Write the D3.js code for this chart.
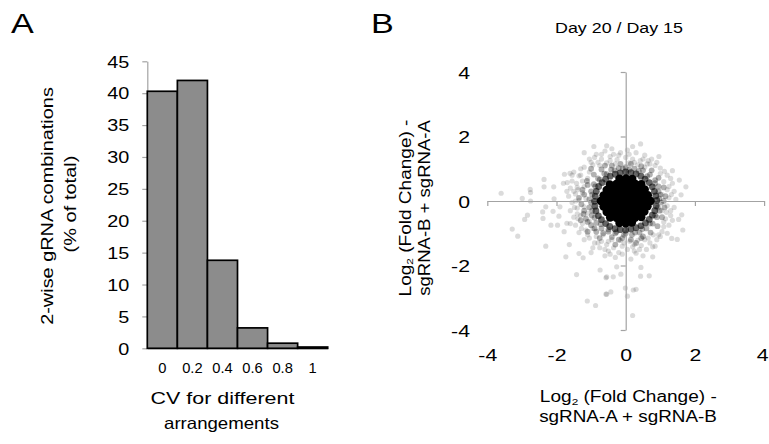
<!DOCTYPE html>
<html>
<head>
<meta charset="utf-8">
<script src="https://cdn.jsdelivr.net/npm/d3@7"></script>
<style>
  html, body { margin: 0; padding: 0; background: #fff; }
  svg { display: block; font-family: "Liberation Sans", Arial, sans-serif; }
  text { white-space: pre; }
</style>
</head>
<body>
<svg id="chart" width="769" height="444"></svg>
<script>
// ---------- Panel A data ----------
const cvCategories = ["0", "0.2", "0.4", "0.6", "0.8", "1"];
const percentOfTotal = [40.3, 42.0, 13.8, 3.2, 0.8, 0.2];
const yTicksA = [0, 5, 10, 15, 20, 25, 30, 35, 40, 45];

// ---------- Panel B data ----------
const ticksB = [-4, -2, 0, 2, 4];
// [log2FC (sgRNA-A + sgRNA-B), log2FC (sgRNA-B + sgRNA-A)]
const sparsePoints = [
  [-3.6,0.24],[-2.76,0.36],[-2.75,0.26],[-2.99,0.08],[-2.75,0.0],[-2.36,0.67],[-2.36,0.44],[-2.08,0.44],
  [-2.07,0.07],[-2.31,-0.18],[-2.4,-0.34],[-2.39,-0.54],[-2.84,-0.44],[-2.92,-0.57],[-3.28,-0.87],[-3.12,-1.09],
  [-2.31,-1.4],[-2.16,-0.75],[-1.97,-0.75],[-2.1,-0.32],[-1.93,-0.47],[-1.73,-1.73],[-1.42,-2.28],[-1.11,-3.1],
  [-0.87,-3.24],[-0.92,1.69],[-1.2,1.5],[-1.35,-1.63],[-1.23,-1.76],[-1.7,-0.69],[-1.78,-0.95],[-1.63,-1.35],
  [-1.77,0.83],[-1.61,0.86],[-1.69,0.57],[-1.8,0.55],[-1.9,-0.18],[-0.55,-2.35],[-0.57,-2.89],[-0.74,-2.14],
  [0.43,1.77],[0.2,1.69],[-0.55,1.71],[0.96,1.38],[1.35,0.94],[1.55,0.65],[1.74,0.44],[1.6,0.19],
  [1.62,-0.43],[1.53,-0.57],[1.65,-0.9],[1.49,-1.19],[1.33,-1.16],[0.78,-1.73],[0.68,-2.32],[0.43,-2.33],
  [0.44,-2.06],[0.3,-2.74],[0.22,-2.76],[0.05,-2.95],[0.2,-3.55],[-0.01,-2.7],[-0.55,-2.89],[-0.43,-2.82],
  [-0.57,-2.38],[-0.36,-2.35],[-0.26,-2.04],[-0.14,-2.27],[0.78,-1.42],
  [-0.85,1.45],[-0.6,1.55],[-0.4,1.62],[-0.15,1.5],[0.05,1.58],[0.3,1.5],[0.55,1.42],[0.75,1.3],
  [-1.05,1.3],[-0.95,1.12],[-0.7,1.3],[-0.45,1.38],[-0.25,1.28],[0.0,1.35],[0.2,1.3],[0.42,1.25],
  [0.62,1.15],[0.85,1.1],[1.0,1.02],[-1.2,1.05],[-0.55,1.18],[0.1,1.18],[0.35,1.12],[-0.3,1.15],[-0.8,1.2],
  [-1.5,0.9],[-1.35,0.78],[-1.55,0.62],[-1.25,0.62],[-1.6,0.4],[-1.4,0.42],[-1.2,0.45],[-1.65,0.15],
  [-1.45,0.22],[-1.25,0.25],[-1.55,-0.05],[-1.35,0.02],[-1.15,0.08],[-1.6,-0.3],[-1.4,-0.22],[-1.2,-0.18],
  [-1.5,-0.5],[-1.3,-0.45],[-1.1,-0.38],[-1.45,-0.75],[-1.25,-0.7],[-1.05,-0.62],[-1.35,-0.98],[-1.15,-0.9],
  [-0.95,-0.85],[-1.1,0.7],[-1.05,0.9],[-1.3,1.0],
  [-1.05,-1.15],[-0.85,-1.1],[-0.9,-1.3],[-0.7,-1.25],[-0.75,-1.45],[-0.55,-1.35],[-0.5,-1.55],[-0.35,-1.45],
  [-0.2,-1.6],[-0.1,-1.4],[0.05,-1.5],[0.2,-1.42],[0.3,-1.62],[0.45,-1.38],[0.6,-1.5],[0.7,-1.3],
  [0.9,-1.2],[0.55,-1.2],[0.35,-1.22],[0.12,-1.25],[-0.15,-1.22],[-0.4,-1.2],[-0.65,-1.05],[0.8,-1.05],
  [1.05,-0.95],[-0.3,-1.75],[0.15,-1.8],[-0.6,-1.7],[0.5,-1.7],
  [1.2,0.8],[1.35,0.55],[1.1,0.6],[1.4,0.3],[1.2,0.35],[1.45,0.05],[1.25,0.1],[1.05,0.2],
  [1.4,-0.2],[1.2,-0.15],[1.05,-0.3],[1.3,-0.45],[1.15,-0.55],[1.25,-0.75],[1.1,-0.8],[1.0,0.85],[0.9,1.2],
  [-1.42,0.55],[-1.5,0.3],[-1.48,-0.2],[-1.38,-0.55],[-0.95,-1.45],[-0.6,-1.5],[-0.1,-1.65],[0.4,-1.5],
  [-0.7,1.45],[-0.2,1.42],[0.5,1.3],[1.3,0.7],[1.35,-0.6],[1.0,-1.1],[-1.2,-1.2],[-1.55,0.8],
  [-1.0,1.2],[-0.75,1.1],[-0.45,1.25],[0.25,1.2],[0.55,1.05],[0.7,1.15],[1.12,0.92],[1.25,0.45],
  [1.32,0.2],[1.3,-0.3],[1.18,-0.35],[1.2,-1.0],[0.95,-1.05],[0.65,-1.15],[0.25,-1.35],[-0.05,-1.3],
  [-0.5,-1.25],[-0.8,-1.3],[-1.1,-1.05],[-1.28,-0.85],[-1.4,-0.4],[-1.45,0.0],[-1.38,0.35],[-1.3,0.8],
  [-0.9,1.35],[-0.35,1.45],[0.1,1.45],[0.65,1.25],[1.1,-0.65],[-1.6,-0.7],[-1.7,0.3],[-0.45,-1.65],
  [0.25,-1.55],[0.85,-1.4],[-1.0,-1.6]
];
const ringPoints = [
  [0.0,1.05],[0.25,1.0],[0.5,0.95],[0.7,0.82],[0.85,0.65],[0.95,0.45],[1.0,0.2],[1.02,-0.05],
  [0.98,-0.3],[0.9,-0.5],[0.78,-0.7],[0.6,-0.85],[0.4,-0.98],[0.18,-1.05],[-0.05,-1.05],[-0.3,-1.0],
  [-0.5,-0.95],[-0.7,-0.85],[-0.85,-0.68],[-0.98,-0.45],[-1.05,-0.2],[-1.05,0.05],[-1.0,0.3],[-0.92,0.52],
  [-0.8,0.7],[-0.62,0.85],[-0.42,0.97],[-0.2,1.02],
  [0.1,0.97],[0.38,0.93],[0.62,0.77],[0.85,0.55],[0.95,0.3],[0.97,0.07],[0.93,-0.2],[0.85,-0.45],
  [0.7,-0.7],[0.48,-0.87],[0.27,-0.98],[0.0,-1.0],[-0.27,-0.96],[-0.5,-0.88],[-0.72,-0.72],[-0.9,-0.52],
  [-0.97,-0.3],[-1.0,-0.05],[-0.97,0.2],[-0.88,0.45],[-0.75,0.66],[-0.55,0.83],[-0.32,0.95],[-0.08,1.0],
  [-1.2,-0.3],[-1.15,-0.55],[-1.0,-0.75],[-0.85,-0.95],[-1.2,0.2],[-1.1,0.5],[-0.6,1.1],[0.5,-1.1],
  [-0.2,-1.2],[1.1,0.0],
  [0.15,1.15],[0.45,1.08],[0.75,0.95],[0.95,0.72],[1.1,0.42],[1.15,0.15],[1.12,-0.2],[1.05,-0.5],
  [0.92,-0.78],[0.72,-0.98],[0.45,-1.15],[0.15,-1.2],[-0.1,-1.15],[-0.4,-1.12],[-0.65,-1.0],[-0.9,-0.85],
  [-1.1,-0.65],[-1.22,-0.4],[-1.28,-0.1],[-1.25,0.35],[-1.12,0.62],[-0.92,0.82],[-0.7,0.98],[-0.4,1.1],
  [-0.15,1.15],[-1.3,-0.6],[-1.1,-0.95],[-0.75,-1.15],[-0.3,-1.35],[0.3,-1.3],[-1.35,0.1],[-1.0,1.0]
];
const innerRingPoints = [
  [0.9,0.02],[0.87,0.16],[0.83,0.3],[0.77,0.44],[0.68,0.57],[0.56,0.68],[0.44,0.77],[0.3,0.84],
  [0.15,0.88],[0.0,0.9],[-0.16,0.87],[-0.3,0.83],[-0.45,0.77],[-0.58,0.68],[-0.68,0.57],[-0.78,0.45],
  [-0.85,0.3],[-0.88,0.15],[-0.9,-0.01],[-0.89,-0.16],[-0.86,-0.31],[-0.79,-0.46],[-0.7,-0.58],[-0.58,-0.7],
  [-0.46,-0.79],[-0.31,-0.86],[-0.16,-0.89],[0.0,-0.9],[0.15,-0.87],[0.3,-0.83],[0.44,-0.77],[0.57,-0.68],
  [0.68,-0.57],[0.77,-0.44],[0.84,-0.3],[0.88,-0.15]
];
const corePoints = [
  [-0.18,0.69],[0.01,0.7],[0.19,0.68],
  [-0.46,0.51],[-0.27,0.53],[-0.08,0.52],[0.09,0.51],[0.28,0.53],[0.45,0.52],
  [-0.55,0.34],[-0.36,0.35],[-0.18,0.36],[0.0,0.34],[0.19,0.35],[0.37,0.34],[0.55,0.36],
  [-0.64,0.17],[-0.45,0.18],[-0.27,0.16],[-0.09,0.17],[0.09,0.18],[0.27,0.16],[0.46,0.17],[0.64,0.18],
  [-0.72,0.0],[-0.54,0.01],[-0.36,-0.01],[-0.18,0.0],[0.0,0.01],[0.18,-0.01],[0.36,0.0],[0.54,0.01],[0.72,0.0],
  [-0.64,-0.17],[-0.45,-0.16],[-0.27,-0.18],[-0.09,-0.17],[0.09,-0.16],[0.27,-0.18],[0.45,-0.17],[0.63,-0.16],
  [-0.55,-0.34],[-0.36,-0.35],[-0.18,-0.33],[0.0,-0.34],[0.18,-0.35],[0.36,-0.34],[0.54,-0.33],
  [-0.45,-0.51],[-0.27,-0.52],[-0.09,-0.5],[0.09,-0.51],[0.27,-0.52],[0.45,-0.5],
  [-0.18,-0.68],[0.0,-0.69],[0.18,-0.67]
];

// ---------- drawing ----------
const svg = d3.select("#chart");
svg.append("rect").attr("width", 769).attr("height", 444).attr("fill", "#fff");
const AXIS = "#a3a3a3";

function addText(parent, x, y, size, k, anchor, rot) {
  return parent.append("text")
    .attr("transform", `translate(${x},${y})` + (rot ? ` rotate(${rot})` : "") + ` scale(${k},1)`)
    .attr("text-anchor", anchor)
    .attr("font-size", size)
    .attr("fill", "#000");
}
function styleAxis(g) {
  g.select(".domain").attr("stroke", AXIS).attr("stroke-width", 1.2);
  g.selectAll(".tick line").attr("stroke", AXIS).attr("stroke-width", 1.2);
}
function stretchTicks(g, k, size) {
  g.selectAll(".tick text").each(function () {
    const t = d3.select(this);
    const x = +t.attr("x") || 0, y = +t.attr("y") || 0;
    t.attr("x", null).attr("y", null)
     .attr("transform", `translate(${x},${y}) scale(${k},1)`)
     .attr("font-size", size).attr("fill", "#000").attr("font-family", null);
  });
}

// Panel letters
addText(svg, 11, 33, 28, 1.22, "start").text("A");
addText(svg, 371, 33, 28, 1.22, "start").text("B");

// ===== Panel A =====
const xA = d3.scaleBand().domain(cvCategories).range([147.3, 327.7]).padding(0);
const yA = d3.scaleLinear().domain([0, 45]).range([348.3, 61.3]);

const gA = svg.append("g");
const yAxisA = gA.append("g").attr("transform", "translate(147.3,0)")
  .call(d3.axisLeft(yA).tickValues(yTicksA).tickSize(5).tickSizeOuter(0).tickPadding(13));
styleAxis(yAxisA);
stretchTicks(yAxisA, 1.24, 16);
yAxisA.selectAll(".tick text").attr("dy", "0.36em");

const xAxisA = gA.append("g").attr("transform", "translate(0,348.3)")
  .call(d3.axisBottom(xA).tickSize(0).tickSizeOuter(0).tickPadding(15));
styleAxis(xAxisA);
stretchTicks(xAxisA, 1.05, 14);
xAxisA.selectAll(".tick text").attr("dy", "0.72em");

gA.selectAll("rect.bar").data(cvCategories.map((c, i) => ({ c, v: percentOfTotal[i] })))
  .join("rect").attr("class", "bar")
  .attr("x", d => xA(d.c)).attr("width", xA.bandwidth())
  .attr("y", d => yA(d.v)).attr("height", d => yA(0) - yA(d.v))
  .attr("fill", "#8c8c8c").attr("stroke", "#000").attr("stroke-width", 1.7);

// Axis titles A
addText(gA, 53, 206, 17, 1.17, "middle", -90).text("2-wise gRNA combinations");
addText(gA, 76, 204, 17, 1.18, "middle", -90).text("(% of total)");
addText(gA, 222.5, 404, 16.5, 1.3, "middle").text("CV for different");
addText(gA, 221.5, 429, 16.5, 1.13, "middle").text("arrangements");

// ===== Panel B =====
const xB = d3.scaleLinear().domain([-4, 4]).range([487.3, 764.1]);
const yB = d3.scaleLinear().domain([-4, 4]).range([330, 72]);
const gB = svg.append("g");

// points
gB.append("g").selectAll("circle").data(sparsePoints).join("circle")
  .attr("cx", d => xB(d[0])).attr("cy", d => yB(d[1])).attr("r", 2.6)
  .attr("fill", "#000").attr("fill-opacity", 0.14);
gB.append("g").selectAll("circle").data(ringPoints).join("circle")
  .attr("cx", d => xB(d[0])).attr("cy", d => yB(d[1])).attr("r", 2.9)
  .attr("fill", "#000").attr("fill-opacity", 0.3);

// axes through origin
const xAxisB = gB.append("g").attr("transform", `translate(0,${yB(0)})`)
  .call(d3.axisBottom(xB).tickValues(ticksB).tickSize(5).tickSizeOuter(0).tickFormat(""));
styleAxis(xAxisB);
const yAxisB = gB.append("g").attr("transform", `translate(${xB(0)},0)`)
  .call(d3.axisLeft(yB).tickValues(ticksB).tickSize(5).tickSizeOuter(0).tickFormat(""));
styleAxis(yAxisB);

gB.append("g").selectAll("circle").data(innerRingPoints).join("circle")
  .attr("cx", d => xB(d[0])).attr("cy", d => yB(d[1])).attr("r", 3.4)
  .attr("fill", "#000").attr("fill-opacity", 0.6);
gB.append("g").selectAll("circle").data(corePoints).join("circle")
  .attr("cx", d => xB(d[0])).attr("cy", d => yB(d[1])).attr("r", 4.2)
  .attr("fill", "#000");

// tick labels placed low / left (Excel style)
const xLabB = gB.append("g").attr("transform", "translate(0,349)")
  .call(d3.axisBottom(xB).tickValues(ticksB).tickSize(0).tickPadding(0).tickFormat(d3.format("d")));
xLabB.select(".domain").remove();
stretchTicks(xLabB, 1.25, 17);
xLabB.selectAll(".tick text").attr("dy", "0.71em").text(d => String(d).replace("\u2212", "-"));
// keep the last label inside the picture
xLabB.selectAll(".tick").filter(d => d === 4).select("text")
  .attr("text-anchor", "end").attr("transform", "translate(4,0) scale(1.25,1)");

const yLabB = gB.append("g").attr("transform", "translate(470,0)")
  .call(d3.axisLeft(yB).tickValues(ticksB).tickSize(0).tickPadding(0).tickFormat(d3.format("d")));
yLabB.select(".domain").remove();
stretchTicks(yLabB, 1.25, 17);
yLabB.selectAll(".tick text").attr("dy", "0.36em").text(d => String(d).replace("\u2212", "-"));

// title
addText(gB, 619, 33, 15, 1.19, "middle").text("Day 20 / Day 15");

function log2Title(t, size, rest) {
  t.append("tspan").text("Log");
  t.append("tspan").attr("font-size", size * 0.62).attr("dy", size * 0.18).text("2");
  t.append("tspan").attr("dy", -size * 0.18).text(rest);
}
// x title
log2Title(addText(gB, 628.3, 402, 16, 1.19, "middle"), 16, " (Fold Change) -");
addText(gB, 628, 422, 16, 1.18, "middle").text("sgRNA-A + sgRNA-B");
// y title
log2Title(addText(gB, 410.5, 208, 16, 1.19, "middle", -90), 16, " (Fold Change) -");
addText(gB, 430, 208, 16, 1.16, "middle", -90).text("sgRNA-B + sgRNA-A");
</script>
</body>
</html>
